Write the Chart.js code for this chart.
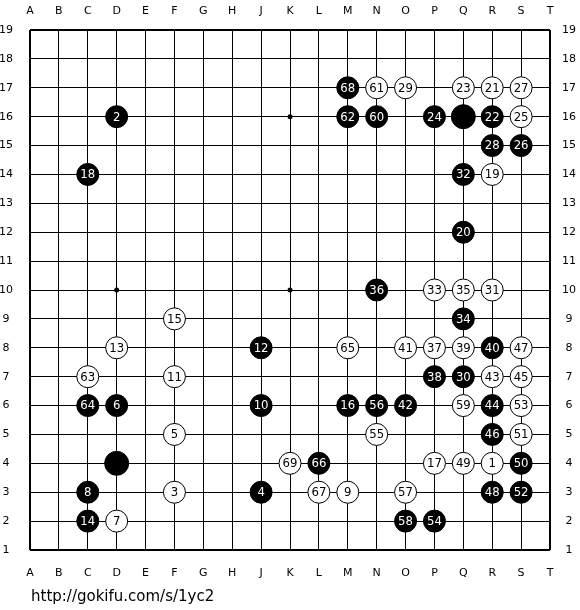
<!DOCTYPE html>
<html>
<head>
<meta charset="utf-8">
<script src="https://cdn.jsdelivr.net/npm/chart.js@4.4.1/dist/chart.umd.min.js"></script>
<style>
  html, body { margin: 0; padding: 0; background: #ffffff; }
  #board { display: block; }
</style>
</head>
<body>
<canvas id="board" width="580" height="610"></canvas>
<script>
// Board coordinates
const columns = ['A','B','C','D','E','F','G','H','J','K','L','M','N','O','P','Q','R','S','T'];
const rowCount = 19;

// Moves: [column, row, move number]
const blackMoves = [
  ['D',16,2],['J',3,4],['D',6,6],['C',3,8],['J',6,10],['J',8,12],['C',2,14],['M',6,16],
  ['C',14,18],['Q',12,20],['R',16,22],['P',16,24],['S',15,26],['R',15,28],['Q',7,30],
  ['Q',14,32],['Q',9,34],['N',10,36],['P',7,38],['R',8,40],['O',6,42],['R',6,44],
  ['R',5,46],['R',3,48],['S',4,50],['S',3,52],['P',2,54],['N',6,56],['O',2,58],
  ['N',16,60],['M',16,62],['C',6,64],['L',4,66],['M',17,68]
];
const whiteMoves = [
  ['R',4,1],['F',3,3],['F',5,5],['D',2,7],['M',3,9],['F',7,11],['D',8,13],['F',9,15],
  ['P',4,17],['R',14,19],['R',17,21],['Q',17,23],['S',16,25],['S',17,27],['O',17,29],
  ['R',10,31],['P',10,33],['Q',10,35],['P',8,37],['Q',8,39],['O',8,41],['R',7,43],
  ['S',7,45],['S',8,47],['Q',4,49],['S',5,51],['S',6,53],['N',5,55],['O',3,57],
  ['Q',6,59],['N',17,61],['C',7,63],['M',8,65],['L',3,67],['K',4,69]
];
// Handicap stones (no number)
const handicapStones = [['Q',16],['D',4]];
// Star points
const hoshiPoints = [['D',16],['K',16],['Q',16],['D',10],['K',10],['Q',10],['D',4],['K',4],['Q',4]];
const sourceText = 'http://gokifu.com/s/1yc2';

const toPoint = (m) => ({ x: columns.indexOf(m[0]) + 1, y: m[1], n: m[2] });

const numberFont = '13px "DejaVu Sans Condensed", "Liberation Sans", sans-serif';

const stoneLabels = {
  id: 'stoneLabels',
  afterDatasetsDraw(chart) {
    const ctx = chart.ctx;
    ctx.save();
    ctx.font = numberFont;
    ctx.textAlign = 'center';
    ctx.textBaseline = 'middle';
    chart.data.datasets.forEach((ds, i) => {
      if (!ds.numbered) return;
      const meta = chart.getDatasetMeta(i);
      meta.data.forEach((el, j) => {
        const v = ds.data[j];
        ctx.fillStyle = ds.textColor;
        ctx.fillText(String(v.n), el.x, el.y + 0.5);
      });
    });
    ctx.restore();
  },
  afterDraw(chart) {
    const ctx = chart.ctx;
    ctx.save();
    ctx.font = '15px "DejaVu Sans"';
    ctx.fillStyle = '#000';
    ctx.textAlign = 'left';
    ctx.textBaseline = 'alphabetic';
    ctx.fillText(sourceText, 31, 601);
    ctx.restore();
  }
};

const edgeWidth = (c) => (c.index === 0 || c.index === rowCount - 1) ? 2 : 1;

new Chart(document.getElementById('board'), {
  type: 'scatter',
  data: {
    datasets: [
      {
        label: 'black',
        data: blackMoves.map(toPoint),
        numbered: true,
        textColor: '#ffffff',
        pointRadius: 11,
        pointBackgroundColor: '#000000',
        pointBorderColor: '#000000',
        pointBorderWidth: 1,
        order: 1
      },
      {
        label: 'white',
        data: whiteMoves.map(toPoint),
        numbered: true,
        textColor: '#000000',
        pointRadius: 11,
        pointBackgroundColor: '#ffffff',
        pointBorderColor: '#000000',
        pointBorderWidth: 1,
        order: 1
      },
      {
        label: 'handicap',
        data: handicapStones.map(toPoint),
        pointRadius: 12,
        pointBackgroundColor: '#000000',
        pointBorderColor: '#000000',
        pointBorderWidth: 1,
        order: 1
      },
      {
        label: 'hoshi',
        data: hoshiPoints.map(toPoint),
        pointRadius: 2.5,
        pointBackgroundColor: '#000000',
        pointBorderWidth: 0,
        order: 5
      }
    ]
  },
  options: {
    responsive: false,
    animation: false,
    devicePixelRatio: 1,
    layout: { padding: 0 },
    plugins: { legend: { display: false }, tooltip: { enabled: false } },
    elements: { point: { hoverRadius: 11 } },
    scales: {
      x: {
        type: 'linear', position: 'bottom', min: 1, max: 19,
        afterFit: (s) => { s.height = 60; },
        border: { display: false },
        grid: { color: '#000', lineWidth: edgeWidth, drawTicks: false },
        ticks: {
          stepSize: 1, autoSkip: false, maxRotation: 0, padding: 17,
          color: '#000', font: { family: 'DejaVu Sans', size: 11 },
          callback: (v) => columns[v - 1]
        }
      },
      x2: {
        type: 'linear', position: 'top', min: 1, max: 19,
        afterFit: (s) => { s.height = 30; },
        border: { display: false },
        grid: { display: false, drawTicks: false },
        ticks: {
          stepSize: 1, autoSkip: false, maxRotation: 0, padding: 12,
          color: '#000', font: { family: 'DejaVu Sans', size: 11 },
          callback: (v) => columns[v - 1]
        }
      },
      y: {
        type: 'linear', position: 'left', min: 1, max: 19,
        afterFit: (s) => { s.width = 30; },
        border: { display: false },
        grid: { color: '#000', lineWidth: edgeWidth, drawTicks: false },
        ticks: {
          stepSize: 1, autoSkip: false, padding: 17, crossAlign: 'center',
          color: '#000', font: { family: 'DejaVu Sans', size: 11 },
          callback: (v) => String(v)
        }
      },
      y2: {
        type: 'linear', position: 'right', min: 1, max: 19,
        afterFit: (s) => { s.width = 30; },
        border: { display: false },
        grid: { display: false, drawTicks: false },
        ticks: {
          stepSize: 1, autoSkip: false, padding: 12, crossAlign: 'center',
          color: '#000', font: { family: 'DejaVu Sans', size: 11 },
          callback: (v) => String(v)
        }
      }
    }
  },
  plugins: [stoneLabels]
});
</script>
</body>
</html>
